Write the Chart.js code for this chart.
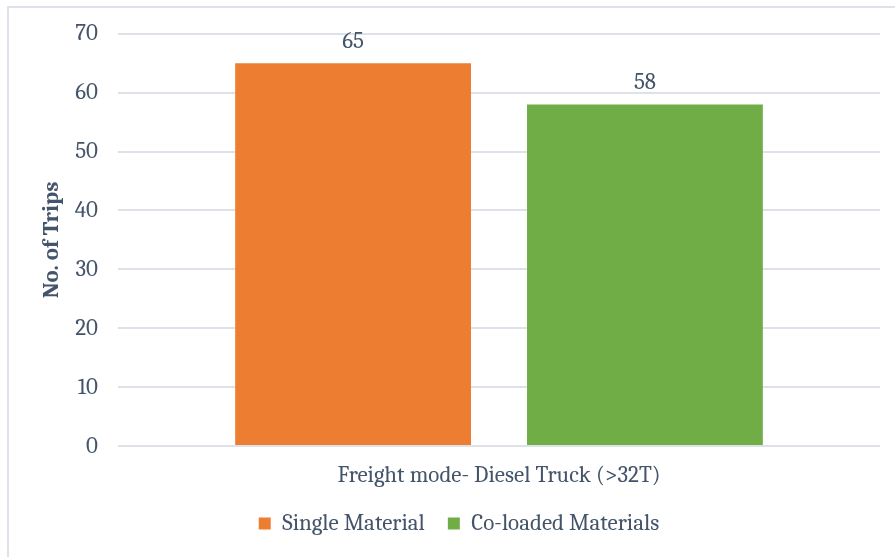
<!DOCTYPE html>
<html>
<head>
<meta charset="utf-8">
<script src="https://cdn.jsdelivr.net/npm/chart.js@4.4.0/dist/chart.umd.min.js"></script>
<style>
  html, body { margin: 0; padding: 0; background: #fff; }
  #wrap { position: absolute; left: 0; top: 0; width: 895px; height: 557px; }
  #frame { position: absolute; left: 7px; top: 6px; width: 900px; height: 560px; border: 2px solid #dde2e8; box-sizing: border-box; }
</style>
</head>
<body>
<div id="wrap">
  <div id="frame"></div>
  <canvas id="c" width="895" height="557"></canvas>
</div>
<script>
// chart values
const categories = ['Freight mode- Diesel Truck (>32T)'];
const seriesNames = ['Single Material', 'Co-loaded Materials'];
const singleMaterial = [65];
const coloadedMaterials = [58];
const yTicks = [0, 10, 20, 30, 40, 50, 60, 70];

const FONT = 'Cambria, "DejaVu Serif", serif';
const TXT = '#44546A';
const FS = 23;

// draws the value above each bar
const barLabels = {
  id: 'barLabels',
  afterDatasetsDraw(chart) {
    const ctx = chart.ctx;
    ctx.save();
    ctx.font = FS + 'px ' + FONT;
    ctx.fillStyle = TXT;
    ctx.textAlign = 'center';
    ctx.textBaseline = 'middle';
    chart.data.datasets.forEach((ds, i) => {
      chart.getDatasetMeta(i).data.forEach((bar, j) => {
        ctx.fillText(ds.data[j], bar.x, bar.y - 22);
      });
    });
    ctx.restore();
  }
};

new Chart(document.getElementById('c'), {
  type: 'bar',
  data: {
    labels: categories,
    datasets: [
      { label: seriesNames[0], data: singleMaterial, backgroundColor: '#ED7D31' },
      { label: seriesNames[1], data: coloadedMaterials, backgroundColor: '#70AD47' }
    ]
  },
  options: {
    responsive: false,
    animation: false,
    layout: { padding: { left: 38, right: 15, top: 27, bottom: 12 } },
    plugins: {
      legend: {
        position: 'bottom',
        labels: {
          boxWidth: 12, boxHeight: 12, padding: 23,
          color: TXT, font: { family: FONT, size: FS }
        }
      },
      tooltip: { enabled: false }
    },
    datasets: { bar: { categoryPercentage: 0.766, barPercentage: 0.808 } },
    scales: {
      x: {
        grid: { display: false },
        border: { display: false },
        ticks: { color: TXT, font: { family: FONT, size: FS }, padding: 8 },
        afterFit(s) { s.height = 43; }
      },
      y: {
        min: 0, max: 70,
        afterBuildTicks(s) { s.ticks = yTicks.map(v => ({ value: v })); },
        grid: { color: '#dde2e8', lineWidth: 2, drawTicks: false },
        border: { display: false },
        ticks: { color: TXT, font: { family: FONT, size: FS }, padding: 20 },
        title: { display: true, text: 'No. of Trips', color: TXT, font: { family: FONT, size: FS, weight: 'bold' }, padding: 0 },
        afterFit(s) { s.width = 80; }
      }
    }
  },
  plugins: [barLabels]
});
</script>
</body>
</html>
